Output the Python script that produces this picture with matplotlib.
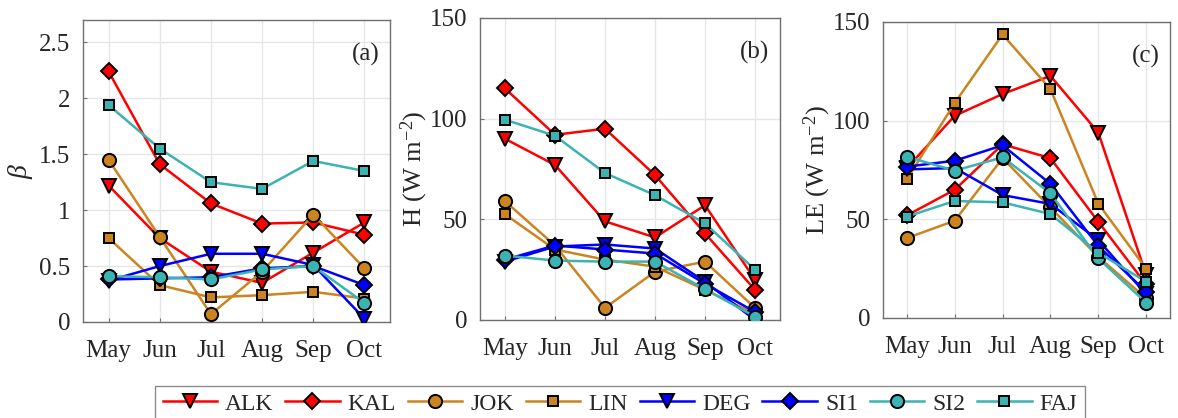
import matplotlib
matplotlib.use("Agg")
import matplotlib.pyplot as plt
import numpy as np

plt.rcParams['font.family'] = ['Liberation Serif', 'DejaVu Serif']
plt.rcParams['mathtext.fontset'] = 'custom'
plt.rcParams['mathtext.rm'] = 'Liberation Serif'
plt.rcParams['mathtext.it'] = 'Liberation Serif:italic'

months = ["May", "Jun", "Jul", "Aug", "Sep", "Oct"]
sites = ["ALK", "KAL", "JOK", "LIN", "DEG", "SI1", "SI2", "FAJ"]

# Bowen ratio (beta)
beta_ALK = [1.22, 0.75, 0.45, 0.35, 0.62, 0.89]
beta_KAL = [2.24, 1.41, 1.06, 0.88, 0.89, 0.78]
beta_JOK = [1.45, 0.76, 0.07, 0.45, 0.96, 0.48]
beta_LIN = [0.75, 0.33, 0.22, 0.24, 0.27, 0.21]
beta_DEG = [0.37, 0.50, 0.61, 0.61, 0.51, 0.03]
beta_SI1 = [0.38, 0.39, 0.40, 0.48, 0.50, 0.33]
beta_SI2 = [0.41, 0.40, 0.38, 0.47, 0.50, 0.17]
beta_FAJ = [1.94, 1.55, 1.25, 1.19, 1.44, 1.35]

# Sensible heat flux H (W m-2)
H_ALK = [90, 77, 49, 41, 57, 20]
H_KAL = [115, 92, 95, 72, 43, 15]
H_JOK = [59, 37, 6, 24, 29, 6]
H_LIN = [52.5, 35, 30, 26.5, 15, 3]
H_DEG = [29, 36.5, 37.5, 35.5, 19, 0]
H_SI1 = [30, 37, 35, 33, 18, 4]
H_SI2 = [32, 29.5, 29, 29, 15.3, 1.7]
H_FAJ = [99.5, 91.5, 73, 62, 48, 25]

# Latent heat flux LE (W m-2)
LE_ALK = [76, 102.5, 113.5, 122.7, 94, 22]
LE_KAL = [52, 65, 88, 81, 48.8, 17]
LE_JOK = [40.5, 49.3, 81, 56, 31, 10]
LE_LIN = [70.3, 109, 143.7, 116, 58, 25]
LE_DEG = [75.3, 76, 62.3, 57.8, 39.5, 12]
LE_SI1 = [76.7, 79.7, 87.5, 68, 36.5, 13.3]
LE_SI2 = [81.7, 74.7, 81.4, 63.2, 30.2, 7.8]
LE_FAJ = [51.4, 59.3, 58.6, 52.7, 33.1, 18.4]

beta_data = [beta_ALK, beta_KAL, beta_JOK, beta_LIN, beta_DEG, beta_SI1, beta_SI2, beta_FAJ]
H_data = [H_ALK, H_KAL, H_JOK, H_LIN, H_DEG, H_SI1, H_SI2, H_FAJ]
LE_data = [LE_ALK, LE_KAL, LE_JOK, LE_LIN, LE_DEG, LE_SI1, LE_SI2, LE_FAJ]

red = '#FF0000'
blue = '#0000FF'
orange = '#CC8420'
teal = '#3BB3B3'
colors = [red, red, orange, orange, blue, blue, teal, teal]
markers = ['v', 'D', 'o', 's', 'v', 'D', 'o', 's']
msizes = [10.5, 8, 9.5, 7.5, 10.5, 8, 9.5, 7.5]

fig = plt.figure(figsize=(11.78, 4.18), dpi=100)
W, Hh = 1178, 418
def axpos(l, r, t, b):
    return [l / W, 1 - b / Hh, (r - l) / W, (b - t) / Hh]

ax_a = fig.add_axes(axpos(83, 390, 20, 322))
ax_b = fig.add_axes(axpos(480, 780, 18, 320))
ax_c = fig.add_axes(axpos(883, 1170, 22, 318))

x = np.arange(1, len(months) + 1)
panels = [
    (ax_a, beta_data, (0, 2.7), [0, 0.5, 1, 1.5, 2, 2.5], ["0", "0.5", "1", "1.5", "2", "2.5"], '(a)'),
    (ax_b, H_data, (0, 150), [0, 50, 100, 150], ["0", "50", "100", "150"], '(b)'),
    (ax_c, LE_data, (0, 150), [0, 50, 100, 150], ["0", "50", "100", "150"], '(c)'),
]

txtcol = '#262626'
handles = []
for ax, data, ylim, yt, ytl, tag in panels:
    hs = []
    for vals, c, m, ms, name in zip(data, colors, markers, msizes, sites):
        h, = ax.plot(x, vals, color=c, lw=1.8, marker=m, ms=ms, mfc=c,
                     mec='black', mew=1.4, label=name, zorder=3)
        hs.append(h)
    handles = hs
    ax.set_xlim(0.5, 6.5)
    ax.set_ylim(*ylim)
    ax.set_xticks(x)
    ax.set_xticklabels(months)
    ax.set_yticks(yt)
    ax.set_yticklabels(ytl)
    ax.grid(True, color='#E6E6E6', lw=1.0, zorder=0)
    ax.set_axisbelow(True)
    for s in ax.spines.values():
        s.set_color('#707070')
        s.set_linewidth(1.0)
    ax.tick_params(direction='in', length=3, width=0.8, color='#707070',
                   labelsize=18, labelcolor=txtcol)
    ax.tick_params(axis='x', pad=13)
    ax.tick_params(axis='y', pad=9)
    ax.text(0.965, 0.885, tag, transform=ax.transAxes, ha='right', va='center',
            fontsize=18, color=txtcol)

ax_a.set_ylabel(r'$\beta$', fontsize=20, color=txtcol, labelpad=3)
ax_b.set_ylabel(r'H (W m$^{-2}$)', fontsize=19, color=txtcol, labelpad=0)
ax_c.set_ylabel(r'LE (W m$^{-2}$)', fontsize=19, color=txtcol, labelpad=0)

leg = fig.legend(handles=handles, labels=sites, loc='upper center',
                 bbox_to_anchor=(620 / W, 1 - 386 / Hh), ncol=8,
                 prop={'family': 'Liberation Serif', 'size': 17},
                 frameon=True, fancybox=False, edgecolor='#707070',
                 handlelength=2.3, handletextpad=0.35, columnspacing=0.5,
                 borderpad=0.3, borderaxespad=0)
leg.get_frame().set_linewidth(1.0)
for t in leg.get_texts():
    t.set_color(txtcol)

fig.savefig('out.png', dpi=100)
